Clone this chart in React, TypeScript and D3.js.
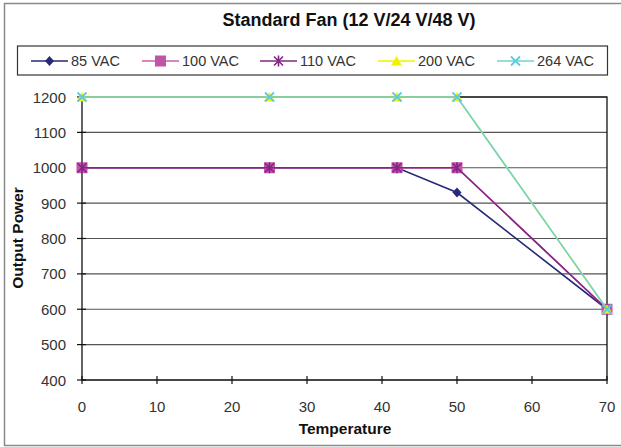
import React from "react";
import * as d3 from "d3";

const temperatures = [0, 25, 42, 50, 70];
const seriesNames = ["85 VAC", "100 VAC", "110 VAC", "200 VAC", "264 VAC"];
const vac85 = [1000, 1000, 1000, 930, 600];
const vac100 = [1000, 1000, 1000, 1000, 600];
const vac110 = [1000, 1000, 1000, 1000, 600];
const vac200 = [1200, 1200, 1200, 1200, 600];
const vac264 = [1200, 1200, 1200, 1200, 600];
const xTicks = [0, 10, 20, 30, 40, 50, 60, 70];
const yTicks = [400, 500, 600, 700, 800, 900, 1000, 1100, 1200];

const W = 621;
const H = 447;
const FONT = "'Liberation Sans', Arial, Helvetica, sans-serif";

const lineColors = ["#262a78", "#cc5fb0", "#852485", "#f2f200", "#74d2cc"];
const markerColors = ["#262a78", "#c055a8", "#852485", "#f2f200", "#5ccbe0"];
const markerKinds = ["diamond", "square", "star", "triangle", "x"];

function Marker({ kind, x, y, color }: { kind: string; x: number; y: number; color: string }) {
  if (kind === "diamond") {
    return <path d={`M${x},${y - 5}L${x + 4.5},${y}L${x},${y + 5}L${x - 4.5},${y}Z`} fill={color} />;
  }
  if (kind === "square") {
    return <rect x={x - 5.5} y={y - 5.5} width={11} height={11} fill={color} />;
  }
  if (kind === "star") {
    const s = 4.5;
    return (
      <path
        d={`M${x - s},${y - s}L${x + s},${y + s}M${x - s},${y + s}L${x + s},${y - s}M${x},${y - s - 1}L${x},${y + s + 1}`}
        stroke={color}
        strokeWidth={1.6}
        fill="none"
      />
    );
  }
  if (kind === "triangle") {
    return <path d={`M${x},${y - 5}L${x + 5.5},${y + 4.5}L${x - 5.5},${y + 4.5}Z`} fill={color} />;
  }
  const s = 4.5;
  return (
    <path
      d={`M${x - s},${y - s}L${x + s},${y + s}M${x - s},${y + s}L${x + s},${y - s}`}
      stroke={color}
      strokeWidth={1.8}
      fill="none"
    />
  );
}

export default function App() {
  const series = [vac85, vac100, vac110, vac200, vac264];
  const x = d3.scaleLinear().domain([0, 70]).range([82, 607]);
  const y = d3.scaleLinear().domain([400, 1200]).range([380, 97]);
  const line = d3
    .line<number>()
    .x((_, i) => x(temperatures[i]))
    .y((v) => y(v));

  const legendStarts = [31, 142, 260, 378, 497];

  return (
    <div style={{ position: "fixed", left: 0, top: 0 }}>
      <svg width={W} height={H} style={{ display: "block", background: "#fff" }}>
        <rect x={4.5} y={3.5} width={630} height={442} fill="#fff" stroke="#8a8a8a" strokeWidth={1.5} />
        <text
          x={349}
          y={26}
          textAnchor="middle"
          fontFamily={FONT}
          fontWeight="bold"
          fontSize={18}
          fill="#111"
        >
          Standard Fan (12 V/24 V/48 V)
        </text>

        {/* legend */}
        <rect x={17.5} y={46} width={590} height={29} fill="#fff" stroke="#333" strokeWidth={1.2} />
        {seriesNames.map((name, i) => {
          const lx = legendStarts[i];
          const ly = 61;
          return (
            <g key={name}>
              <line x1={lx} x2={lx + 37} y1={ly} y2={ly} stroke={lineColors[i]} strokeWidth={1.6} />
              <Marker kind={markerKinds[i]} x={lx + 18.5} y={ly} color={markerColors[i]} />
              <text x={lx + 40} y={ly + 5} fontFamily={FONT} fontSize={14.5} fill="#333">
                {name}
              </text>
            </g>
          );
        })}

        {/* gridlines */}
        {yTicks.map((t) => (
          <line key={t} x1={x(0)} x2={x(70)} y1={y(t)} y2={y(t)} stroke="#555" strokeWidth={1.2} />
        ))}
        {/* plot border */}
        <rect x={x(0)} y={y(1200)} width={x(70) - x(0)} height={y(400) - y(1200)} fill="none" stroke="#111" strokeWidth={1.3} />

        {/* y ticks and labels */}
        {yTicks.map((t) => (
          <g key={"y" + t}>
            <line x1={x(0) - 5} x2={x(0) + 4} y1={y(t)} y2={y(t)} stroke="#111" strokeWidth={1.2} />
            <text x={66} y={y(t) + 5.5} textAnchor="end" fontFamily={FONT} fontSize={15} fill="#333">
              {t}
            </text>
          </g>
        ))}
        {/* x ticks and labels */}
        {xTicks.map((t) => (
          <g key={"x" + t}>
            <line x1={x(t)} x2={x(t)} y1={y(400) - 4} y2={y(400) + 4} stroke="#111" strokeWidth={1.2} />
            <text x={x(t)} y={412} textAnchor="middle" fontFamily={FONT} fontSize={15} fill="#333">
              {t}
            </text>
          </g>
        ))}

        {/* series */}
        {series.map((vals, i) => (
          <g key={seriesNames[i]}>
            <path d={line(vals) || ""} fill="none" stroke={lineColors[i]} strokeWidth={1.6} />
            {vals.map((v, j) => (
              <Marker key={j} kind={markerKinds[i]} x={x(temperatures[j])} y={y(v)} color={markerColors[i]} />
            ))}
          </g>
        ))}

        {/* axis titles */}
        <text x={345} y={434} textAnchor="middle" fontFamily={FONT} fontWeight="bold" fontSize={15.5} fill="#111">
          Temperature
        </text>
        <text
          transform={`translate(23,238) rotate(-90)`}
          textAnchor="middle"
          fontFamily={FONT}
          fontWeight="bold"
          fontSize={15.5}
          fill="#111"
        >
          Output Power
        </text>
      </svg>
    </div>
  );
}
